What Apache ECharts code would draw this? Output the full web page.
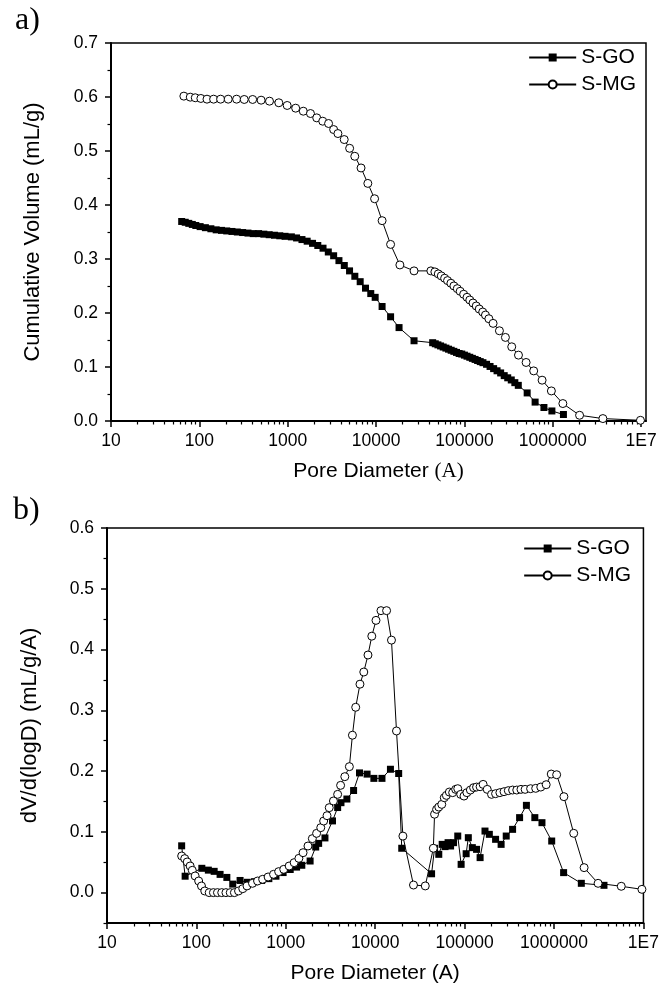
<!DOCTYPE html>
<html><head><meta charset="utf-8">
<script src="https://cdn.jsdelivr.net/npm/echarts@6/dist/echarts.min.js"></script>
<style>html,body{margin:0;padding:0;background:#fff}#c{width:662px;height:999px}</style>
</head><body><div id="c"></div>
<script>
// ---------- tick labels ----------
const xTickExp = [1, 2, 3, 4, 5, 6, 7];
const xTickLabels = ['10', '100', '1000', '10000', '100000', '1000000', '1E7'];
const cumYTicks = [0, 0.1, 0.2, 0.3, 0.4, 0.5, 0.6, 0.7];
const difYTicks = [0, 0.1, 0.2, 0.3, 0.4, 0.5, 0.6];
const difYMinor = [-0.05, 0.05, 0.15, 0.25, 0.35, 0.45, 0.55];
const seriesNames = ['S-GO', 'S-MG'];

// ---------- a) cumulative volume ----------
const cumGoD = [63.1,69.2,75.9,83.2,91.2,102,117,135,155,178,204,234,269,309,355,407,468,537,617,708,813,933,
  1100,1260,1450,1660,1910,2190,2510,2880,3310,3800,4370,5010,5750,6610,7590,8710,9770,11700,14600,18200,26900,
  43700,46800,50100,53700,57500,61700,66100,70800,75900,81300,87100,93300,100000,107000,115000,123000,132000,141000,151000,162000,
  178000,195000,214000,234000,257000,282000,309000,339000,372000,407000,513000,631000,794000,977000,1320000];
const cumGoV = [0.3695,0.368,0.366,0.364,0.362,0.360,0.358,0.356,0.354,0.353,0.352,0.351,0.350,0.349,0.348,0.347,0.347,0.346,0.345,0.344,0.343,0.342,
  0.341,0.339,0.336,0.333,0.329,0.325,0.320,0.313,0.306,0.297,0.288,0.278,0.268,0.258,0.246,0.236,0.229,0.212,0.193,0.173,0.1486,
  0.145,0.143,0.141,0.139,0.137,0.135,0.133,0.131,0.129,0.127,0.125,0.124,0.122,0.120,0.118,0.116,0.114,0.112,0.110,0.108,
  0.105,0.101,0.097,0.093,0.089,0.084,0.080,0.076,0.071,0.066,0.052,0.035,0.025,0.0186,0.012];
const cumMgD = [66.8,78.9,89.9,104,122,145,174,212,264,322,401,500,622,793,986,1230,1500,1810,2130,2490,2900,3310,3700,4360,5020,5740,6760,8070,9620,
  11700,14600,18600,26900,41700,
  46300,50600,54700,59700,64400,70300,76000,83000,89500,98000,107000,115000,125000,136000,147000,161000,173000,189000,211000,249000,291000,343000,409000,499000,608000,757000,964000,1300000,2010000,3690000,9820000];
const cumMgV = [0.6016,0.5997,0.5986,0.5973,0.596,0.596,0.596,0.596,0.596,0.5954,0.5954,0.5941,0.5923,0.5893,0.5843,0.5793,0.5737,0.5694,0.5614,0.5552,0.5509,0.5397,0.5323,0.5212,0.505,0.4902,0.4686,0.44,0.4116,
  0.371,0.327,0.289,0.278,0.278,
  0.2761,0.2724,0.2687,0.2644,0.26,0.2551,0.2501,0.2451,0.2402,0.2347,0.2291,0.2241,0.2185,0.213,0.2074,0.2018,0.1962,0.1894,0.1808,0.1671,0.1548,0.1374,0.122,0.1084,0.0928,0.0756,0.0557,0.0323,0.0106,0.0045,0.0013];

// ---------- b) dV/d(logD) ----------
const difGoD = [68.4,74.8,115,136,158,184,219,255,308,372,447,537,646,776,933,1120,1320,1510,1870,2160,2330,2740,3330,3800,4140,4820,5730,6670,8110,9660,11900,14800,18300,19800,42700,
  46100,51400,56100,60400,65300,69700,75200,83800,91400,104000,110000,122000,136000,149000,169000,189000,222000,256000,292000,344000,412000,491000,610000,733000,942000,1280000,2020000,3620000];
const difGoV = [0.077,0.027,0.040,0.037,0.035,0.030,0.025,0.014,0.020,0.017,0.018,0.020,0.023,0.027,0.033,0.038,0.042,0.045,0.052,0.075,0.081,0.090,0.118,0.140,0.148,0.154,0.168,0.197,0.195,0.188,0.188,0.203,0.196,0.073,0.031,
  0.0729,0.063,0.0794,0.0757,0.0822,0.0767,0.0822,0.0931,0.0465,0.064,0.0904,0.074,0.0712,0.0576,0.1013,0.0959,0.0877,0.0794,0.0931,0.1041,0.1234,0.1436,0.1234,0.1151,0.0849,0.0329,0.0153,0.012];
const difMgD = [68.4,74.0,78.9,85.1,89.9,96.8,106,114,124,139,155,172,192,214,239,266,296,330,368,424,483,551,634,729,832,948,1090,1240,1400,1560,1770,1980,2210,2460,2650,2890,3060,3410,3800,4100,4570,5140,
  5560,6050,6750,7450,8300,9160,10200,11600,13400,15200,17300,
  20400,26800,36300,44700,46100,
  48600,51400,55500,59200,62500,67500,73500,79400,83800,90400,98400,106000,116000,126000,136000,149000,161000,179000,200000,222000,248000,276000,308000,344000,383000,427000,475000,547000,624000,711000,817000,931000,1070000,1290000,1660000,2170000,3110000,5650000,9620000];
const difMgV = [0.0603,0.0559,0.0504,0.0438,0.0367,0.0274,0.0191,0.0109,0.0027,0,0,0,0,0,0,0,0.0027,0.0065,0.011,0.0153,0.0191,0.0219,0.0257,0.0301,0.0345,0.0383,0.0438,0.0493,0.0564,0.0657,0.0767,0.0888,0.0975,0.1069,0.1178,0.1266,0.1398,0.1508,0.1617,0.1765,0.1908,0.2073,
  0.259,0.305,0.343,0.363,0.391,0.422,0.448,0.464,0.464,0.4155,0.266,
  0.093,0.0125,0.011,0.073,0.129,
  0.137,0.1408,0.1452,0.1562,0.16,0.1655,0.1645,0.1699,0.171,0.1617,0.1589,0.1645,0.1688,0.1727,0.1737,0.1743,0.1781,0.1699,0.1617,0.1628,0.1645,0.1661,0.1678,0.1688,0.1688,0.1699,0.1699,0.171,0.1716,0.1737,0.1776,0.1951,0.194,0.1579,0.0976,0.0411,0.0153,0.0104,0.0054];

// ---------- build ----------
const FONT = 'Liberation Sans, Arial, sans-serif';
const SERIF = 'Liberation Serif, Times New Roman, serif';
const pairs = (d, v) => d.map((x, i) => [Math.log10(x), v[i]]);
function minorExp(maxExp) {
  const out = [];
  for (let n = 1; n < 8; n++) for (let k = 2; k <= 9; k++) {
    const e = n + Math.log10(k);
    if (e < maxExp) out.push(e);
  }
  return out;
}
const lblFmt = v => { const i = xTickExp.indexOf(Math.round(v)); return i >= 0 ? xTickLabels[i] : ''; };

function xMain(grid, max, rich) {
  return {
    type: 'value', gridIndex: grid, min: 1, max: max, position: 'bottom',
    axisLine: { show: true, onZero: false, lineStyle: { color: '#000', width: 2 } },
    axisTick: { show: true, inside: false, length: 6, customValues: xTickExp, lineStyle: { color: '#000', width: 1.5 } },
    axisLabel: { customValues: xTickExp, formatter: lblFmt, color: '#000', fontSize: 17.5, fontFamily: FONT, margin: 11 },
    splitLine: { show: false },
    name: rich ? '{a|Pore Diameter }{b|(A)}' : 'Pore Diameter (A)',
    nameLocation: 'middle', nameGap: 40,
    nameTextStyle: rich ? { color: '#000', fontSize: 21, fontFamily: FONT,
      rich: { a: { fontSize: 21, fontFamily: FONT, color: '#000' }, b: { fontSize: 21, fontFamily: SERIF, color: '#000' } } }
      : { color: '#000', fontSize: 21, fontFamily: FONT }
  };
}
function xMinor(grid, max) {
  return {
    type: 'value', gridIndex: grid, min: 1, max: max, position: 'bottom',
    axisLine: { show: false, onZero: false }, axisLabel: { show: false }, splitLine: { show: false },
    axisTick: { show: true, inside: false, length: 3.5, customValues: minorExp(max), lineStyle: { color: '#000', width: 1.2 } }
  };
}

const option = {
  animation: false,
  backgroundColor: '#fff',
  title: [
    { text: 'a)', left: 10, top: 0, textStyle: { fontFamily: SERIF, fontSize: 32, fontWeight: 'normal', color: '#000' } },
    { text: 'b)', left: 8, top: 490, textStyle: { fontFamily: SERIF, fontSize: 32, fontWeight: 'normal', color: '#000' } }
  ],
  legend: [
    { data: seriesNames, orient: 'vertical', right: 21, top: 42, itemWidth: 47, itemHeight: 10, itemGap: 6,
      textStyle: { fontSize: 21, fontFamily: FONT, color: '#000', lineHeight: 20 } },
    { data: seriesNames, orient: 'vertical', right: 26, top: 533, itemWidth: 47, itemHeight: 10, itemGap: 6,
      textStyle: { fontSize: 21, fontFamily: FONT, color: '#000', lineHeight: 20 } }
  ],
  grid: [
    { left: 111, top: 43, width: 535, height: 378, show: true, borderColor: '#000', borderWidth: 1.5, backgroundColor: 'transparent' },
    { left: 107, top: 528, width: 537, height: 395, show: true, borderColor: '#000', borderWidth: 1.5, backgroundColor: 'transparent' }
  ],
  xAxis: [xMain(0, 7.055, true), xMain(1, 7, false), xMinor(0, 7.055), xMinor(1, 7)],
  yAxis: [
    { type: 'value', gridIndex: 0, min: 0, max: 0.7, interval: 0.1, position: 'left',
      axisLine: { show: true, onZero: false, lineStyle: { color: '#000', width: 2 } },
      axisTick: { show: true, inside: false, length: 6, lineStyle: { color: '#000', width: 1.5 } },
      minorTick: { show: true, splitNumber: 2, length: 3.5, lineStyle: { color: '#000', width: 1.2 } },
      axisLabel: { formatter: v => v.toFixed(1), color: '#000', fontSize: 17.5, fontFamily: FONT, margin: 13 },
      splitLine: { show: false },
      name: 'Cumulative Volume (mL/g)', nameLocation: 'middle', nameGap: 67,
      nameTextStyle: { color: '#000', fontSize: 22, fontFamily: FONT } },
    { type: 'value', gridIndex: 1, min: -0.05, max: 0.6, position: 'left',
      axisLine: { show: true, onZero: false, lineStyle: { color: '#000', width: 2 } },
      axisTick: { show: true, inside: false, length: 6, customValues: difYTicks, lineStyle: { color: '#000', width: 1.5 } },
      axisLabel: { customValues: difYTicks, formatter: v => v.toFixed(1), color: '#000', fontSize: 17.5, fontFamily: FONT, margin: 13 },
      splitLine: { show: false },
      name: 'dV/d(logD) (mL/g/A)', nameLocation: 'middle', nameGap: 66,
      nameTextStyle: { color: '#000', fontSize: 22, fontFamily: FONT } },
    { type: 'value', gridIndex: 1, min: -0.05, max: 0.6, position: 'left', offset: 0,
      axisLine: { show: false, onZero: false }, axisLabel: { show: false }, splitLine: { show: false },
      axisTick: { show: true, inside: false, length: 3.5, customValues: difYMinor, lineStyle: { color: '#000', width: 1.2 } } }
  ],
  series: []
};

function mkSeries(name, xi, yi, data) {
  const go = name === 'S-GO';
  return {
    name: name, type: 'line', xAxisIndex: xi, yAxisIndex: yi, data: data,
    symbol: go ? 'rect' : 'circle', symbolSize: go ? 7 : 8,
    lineStyle: { color: '#000', width: 1 },
    itemStyle: go ? { color: '#000' } : { color: '#fff', borderColor: '#000', borderWidth: 1 },
    emphasis: { disabled: true }, z: go ? 2 : 3
  };
}
option.series = [
  mkSeries('S-GO', 0, 0, pairs(cumGoD, cumGoV)),
  mkSeries('S-MG', 0, 0, pairs(cumMgD, cumMgV)),
  mkSeries('S-GO', 1, 1, pairs(difGoD, difGoV)),
  mkSeries('S-MG', 1, 1, pairs(difMgD, difMgV))
];

const chart = echarts.init(document.getElementById('c'), null, { renderer: 'canvas' });
chart.setOption(option);
</script>
</body></html>
